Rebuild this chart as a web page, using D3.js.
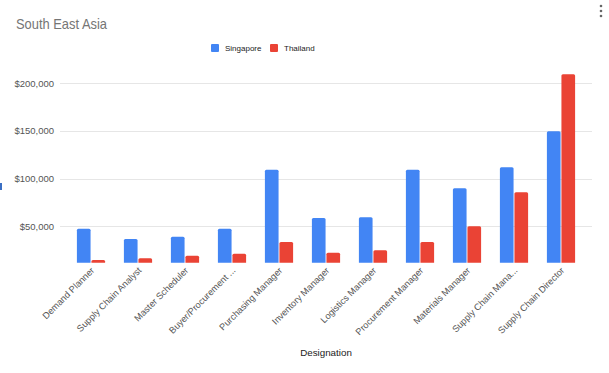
<!DOCTYPE html>
<html>
<head>
<meta charset="utf-8">
<script src="https://cdn.jsdelivr.net/npm/d3@7"></script>
<style>
    body { margin: 0; background: #fff; }
    svg { display: block; font-family: Arial, "Liberation Sans", sans-serif; }
</style>
</head>
<body>
<script>
const designations = [
    'Demand Planner', 'Supply Chain Analyst', 'Master Scheduler', 'Buyer/Procurement ...',
    'Purchasing Manager', 'Inventory Manager', 'Logistics Manager', 'Procurement Manager',
    'Materials Manager', 'Supply Chain Mana...', 'Supply Chain Director'];
const singapore = [47500, 36700, 39100, 47500, 109400, 58700, 59400, 109400, 89800, 111900, 149700];
const thailand = [14600, 16400, 19100, 21200, 33500, 22300, 24800, 33500, 50000, 85600, 209400];
const seriesNames = ['Singapore', 'Thailand'];
const colors = ['#4285f4', '#ea4335'];
const yTicks = [50000, 100000, 150000, 200000];

const width = 609, height = 373;

const svg = d3.select('body').append('svg').
    attr('width', width).
    attr('height', height);

svg.append('rect').attr('width', width).attr('height', height).attr('fill', '#fff');

// axis bottom sits above zero: sheets picked its own minimum
const y = d3.scaleLinear().
    domain([11800, 200000]).
    range([262.7, 83.3]);

const x = d3.scaleBand().
    domain(designations).
    range([67.5, 584.5]).
    paddingInner(0.4).
    paddingOuter(0.2);

const xs = d3.scaleBand().
    domain(seriesNames).
    range([0, x.bandwidth()]).
    paddingInner(0.06);

// gridlines + tick labels
const grid = svg.append('g').attr('class', 'grid');
grid.selectAll('line').
    data(yTicks).
    enter().append('line').
    attr('x1', 60).
    attr('x2', 592).
    attr('y1', d => Math.round(y(d)) + 0.5).
    attr('y2', d => Math.round(y(d)) + 0.5).
    attr('stroke', '#e6e6e6').
    attr('stroke-width', 1);

const fmt = d3.format('$,');
grid.selectAll('text').
    data(yTicks).
    enter().append('text').
    attr('x', 54).
    attr('y', d => y(d)).
    attr('dy', '0.35em').
    attr('text-anchor', 'end').
    attr('font-size', 9.5).
    attr('fill', '#555').
    text(d => fmt(d));

// bars with slightly rounded tops
const barPath = (x0, w, top, base, r) =>
    `M${x0},${base}V${top + r}Q${x0},${top} ${x0 + r},${top}H${x0 + w - r}Q${x0 + w},${top} ${x0 + w},${top + r}V${base}Z`;

const rows = designations.map((d, i) => ({ name: d, values: [singapore[i], thailand[i]] }));

const groups = svg.append('g').
    selectAll('g').
    data(rows).
    enter().append('g').
    attr('transform', d => `translate(${x(d.name)},0)`);

groups.selectAll('path').
    data(d => d.values.map((v, j) => ({ key: seriesNames[j], v, j }))).
    enter().append('path').
    attr('d', d => barPath(xs(d.key), xs.bandwidth(), y(d.v), y.range()[0], 1.5)).
    attr('fill', d => colors[d.j]);

// rotated category labels
svg.append('g').
    selectAll('text').
    data(designations).
    enter().append('text').
    attr('transform', d => `translate(${x(d) + x.bandwidth() / 2 + 4},271) rotate(-45)`).
    attr('text-anchor', 'end').
    attr('font-size', 9.2).
    attr('fill', '#555').
    text(d => d);

svg.append('text').
    attr('x', 326).
    attr('y', 356).
    attr('text-anchor', 'middle').
    attr('font-size', 9.8).
    attr('fill', '#222').
    text('Designation');

// title, squeezed a bit like the screenshot
svg.append('text').
    attr('x', 16).
    attr('y', 29).
    attr('font-size', 15).
    attr('textLength', 91).
    attr('lengthAdjust', 'spacingAndGlyphs').
    attr('fill', '#757575').
    text('South East Asia');

// legend
const legend = svg.append('g').attr('transform', 'translate(211,48)');
const legendX = [0, 59];
const item = legend.selectAll('g').
    data(seriesNames).
    enter().append('g').
    attr('transform', (d, i) => `translate(${legendX[i]},0)`);
item.append('rect').
    attr('y', -4).
    attr('width', 8).
    attr('height', 8).
    attr('rx', 1).
    attr('fill', (d, i) => colors[i]);
item.append('text').
    attr('x', 14).
    attr('dy', '0.35em').
    attr('font-size', 8).
    attr('fill', '#222').
    text(d => d);

// menu dots top right
svg.append('g').
    selectAll('circle').
    data([0, 1, 2]).
    enter().append('circle').
    attr('cx', 601).
    attr('cy', d => 6 + d * 5).
    attr('r', 1.3).
    attr('fill', '#666');

// stray marker at left edge
svg.append('rect').attr('x', 0).attr('y', 183).attr('width', 2).attr('height', 7).attr('fill', '#3b6fc4');
</script>
</body>
</html>
